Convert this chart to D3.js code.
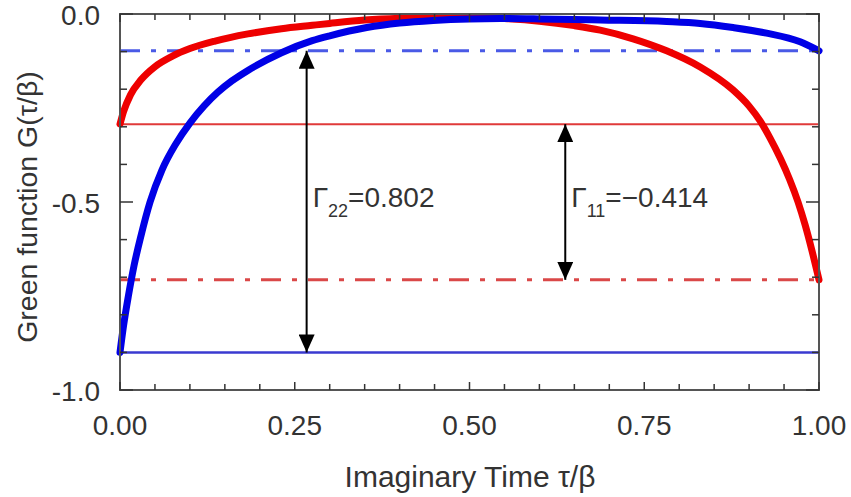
<!DOCTYPE html>
<html>
<head>
<meta charset="utf-8">
<script src="https://cdn.jsdelivr.net/npm/d3@7"></script>
<style>
  html, body { margin: 0; padding: 0; background: #fff; }
  text { font-family: "Liberation Sans", Arial, sans-serif; fill: #333; }
</style>
</head>
<body>
<svg id="chart"></svg>
<script>
// G(tau/beta): [tau, G]
var redCurve = [
  [0, -0.293], [0.005, -0.26], [0.015, -0.215], [0.03, -0.175], [0.05, -0.14],
  [0.075, -0.112], [0.1, -0.092], [0.136, -0.072], [0.183, -0.053], [0.231, -0.039],
  [0.275, -0.030], [0.3, -0.025], [0.35, -0.016], [0.4, -0.011], [0.45, -0.009],
  [0.5, -0.009], [0.55, -0.012], [0.6, -0.019], [0.65, -0.031], [0.687, -0.043],
  [0.734, -0.066], [0.782, -0.098], [0.83, -0.141], [0.877, -0.202], [0.9, -0.245],
  [0.916, -0.285], [0.93, -0.33], [0.945, -0.385], [0.958, -0.44], [0.97, -0.50],
  [0.98, -0.56], [0.99, -0.63], [1.0, -0.707]
];
var blueCurve = [
  [0, -0.9], [0.005, -0.83], [0.012, -0.75], [0.02, -0.67], [0.03, -0.59],
  [0.043, -0.50], [0.06, -0.415], [0.08, -0.345], [0.1, -0.29], [0.12, -0.245],
  [0.14, -0.208], [0.16, -0.178], [0.183, -0.150], [0.231, -0.103], [0.275, -0.071],
  [0.3, -0.058], [0.353, -0.036], [0.4, -0.024], [0.448, -0.017], [0.5, -0.013],
  [0.544, -0.012], [0.6, -0.013], [0.687, -0.016], [0.782, -0.020], [0.83, -0.025],
  [0.877, -0.036], [0.925, -0.051], [0.973, -0.074], [1.0, -0.098]
];

// reference levels
var redLevels = [-0.293, -0.707];
var blueLevels = [-0.9, -0.098];

// arrows: [tau, from, to, subscript, rest of label]
var arrows = [
  [0.267, -0.098, -0.9, "22", "=0.802"],
  [0.637, -0.293, -0.707, "11", "=\u22120.414"]
];

var xTicks = [0, 0.25, 0.5, 0.75, 1.0];
var xTickLabels = ["0.00", "0.25", "0.50", "0.75", "1.00"];
var yTicks = [0, -0.5, -1.0];
var yTickLabels = ["0.0", "-0.5", "-1.0"];

var width = 851,
  height = 497;

var pLeft = 120, pRight = 819, pTop = 14, pBottom = 390;

var svg = d3.select("#chart")
  .attr("width", width)
  .attr("height", height);

var x = d3.scaleLinear().domain([0, 1]).range([pLeft, pRight]);
var y = d3.scaleLinear().domain([0, -1]).range([pTop, pBottom]);

// horizontal reference lines
svg.append("line")
  .attr("x1", x(0)).attr("x2", x(1))
  .attr("y1", y(redLevels[0])).attr("y2", y(redLevels[0]))
  .attr("stroke", "#e03a3a").attr("stroke-width", 2);
svg.append("line")
  .attr("x1", x(0)).attr("x2", x(1))
  .attr("y1", y(redLevels[1])).attr("y2", y(redLevels[1]))
  .attr("stroke", "#da4848").attr("stroke-width", 3)
  .attr("stroke-dasharray", "20,11,5,11");
svg.append("line")
  .attr("x1", x(0)).attr("x2", x(1))
  .attr("y1", y(blueLevels[0])).attr("y2", y(blueLevels[0]))
  .attr("stroke", "#3a3ad0").attr("stroke-width", 2.5);
svg.append("line")
  .attr("x1", x(0)).attr("x2", x(1))
  .attr("y1", y(blueLevels[1])).attr("y2", y(blueLevels[1]))
  .attr("stroke", "#4a5ae6").attr("stroke-width", 3)
  .attr("stroke-dasharray", "20,11,5,11");

var line = d3.line()
  .x(function(d) { return x(d[0]); })
  .y(function(d) { return y(d[1]); })
  .curve(d3.curveMonotoneX);

svg.append("path")
  .attr("d", line(redCurve))
  .attr("stroke", "#ee0000")
  .attr("fill", "none")
  .attr("stroke-width", 7)
  .attr("stroke-linecap", "round");
svg.append("path")
  .attr("d", line(blueCurve))
  .attr("stroke", "#0000e6")
  .attr("fill", "none")
  .attr("stroke-width", 7)
  .attr("stroke-linecap", "round");

// double arrows
svg.append("defs").append("marker")
  .attr("id", "head")
  .attr("viewBox", "0 0 18 16")
  .attr("refX", 18).attr("refY", 8)
  .attr("markerWidth", 18).attr("markerHeight", 16)
  .attr("markerUnits", "userSpaceOnUse")
  .attr("orient", "auto-start-reverse")
  .append("path")
  .attr("d", "M0,0 L18,8 L0,16 Z")
  .attr("fill", "#000");

arrows.forEach(function(a) {
  svg.append("line")
    .attr("x1", x(a[0])).attr("x2", x(a[0]))
    .attr("y1", y(a[1])).attr("y2", y(a[2]))
    .attr("stroke", "#000").attr("stroke-width", 2)
    .attr("marker-start", "url(#head)")
    .attr("marker-end", "url(#head)");
  var t = svg.append("text")
    .attr("x", x(a[0]) + 6)
    .attr("y", y((a[1] + a[2]) / 2) + 5)
    .attr("font-size", 28);
  t.append("tspan").text("\u0393");
  t.append("tspan").attr("dy", 10).attr("font-size", 18).text(a[3]);
  t.append("tspan").attr("dy", -10).text(a[4]);
});

// frame
svg.append("rect")
  .attr("x", pLeft).attr("y", pTop)
  .attr("width", pRight - pLeft).attr("height", pBottom - pTop)
  .attr("stroke", "#555").attr("fill", "none").attr("stroke-width", 2);

// inner ticks on all sides
var xMinor = d3.range(0, 1.0001, 0.05);
var yMinor = d3.range(0, -1.0001, -0.1);
xMinor.forEach(function(v) {
  var len = Math.abs(v * 4 - Math.round(v * 4)) < 1e-6 ? 8 : 6;
  svg.append("line").attr("x1", x(v)).attr("x2", x(v))
    .attr("y1", pBottom).attr("y2", pBottom - len)
    .attr("stroke", "#333").attr("stroke-width", 1.5);
  svg.append("line").attr("x1", x(v)).attr("x2", x(v))
    .attr("y1", pTop).attr("y2", pTop + len)
    .attr("stroke", "#333").attr("stroke-width", 1.5);
});
yMinor.forEach(function(v) {
  var len = Math.abs(v * 2 - Math.round(v * 2)) < 1e-6 ? 13 : 7;
  svg.append("line").attr("x1", pLeft).attr("x2", pLeft + len)
    .attr("y1", y(v)).attr("y2", y(v))
    .attr("stroke", "#333").attr("stroke-width", 1.5);
  svg.append("line").attr("x1", pRight).attr("x2", pRight - len)
    .attr("y1", y(v)).attr("y2", y(v))
    .attr("stroke", "#333").attr("stroke-width", 1.5);
});

// tick labels
svg.selectAll(".xl").data(xTicks).enter().append("text")
  .attr("x", function(d) { return x(d); })
  .attr("y", 435)
  .attr("text-anchor", "middle")
  .attr("font-size", 28)
  .text(function(d, i) { return xTickLabels[i]; });
svg.selectAll(".yl").data(yTicks).enter().append("text")
  .attr("x", 100)
  .attr("y", function(d) { return y(d) + 11; })
  .attr("text-anchor", "end")
  .attr("font-size", 28)
  .text(function(d, i) { return yTickLabels[i]; });

// axis titles
svg.append("text")
  .attr("x", 470).attr("y", 487)
  .attr("text-anchor", "middle")
  .attr("font-size", 30)
  .text("Imaginary Time \u03c4/\u03b2");
svg.append("text")
  .attr("transform", "translate(37,207) rotate(-90)")
  .attr("text-anchor", "middle")
  .attr("font-size", 28.5)
  .text("Green function G(\u03c4/\u03b2)");
</script>
</body>
</html>
